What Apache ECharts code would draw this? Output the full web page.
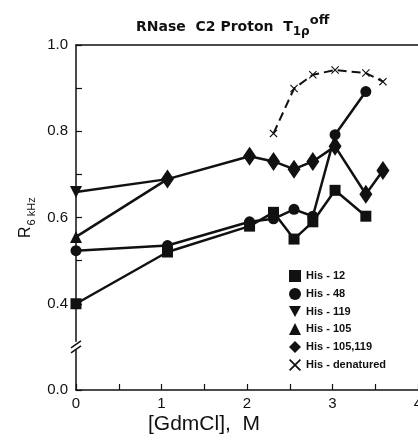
<!DOCTYPE html>
<html>
<head>
<meta charset="utf-8">
<script src="https://cdn.jsdelivr.net/npm/echarts@6/dist/echarts.min.js"></script>
<style>
html, body { margin: 0; padding: 0; background: #fff; }
#main { width: 418px; height: 444px; }
</style>
</head>
<body>
<div id="main"></div>
<script>
// GdmCl concentration (M) for every measured point
var gdmX = [0, 1.07, 2.03, 2.31, 2.55, 2.77, 3.03, 3.39, 3.59];
// R 6kHz values, null where no point
var his12 = [0.40, 0.52, 0.58, 0.612, 0.55, 0.59, 0.663, 0.603, null];
var his48 = [0.523, 0.535, 0.59, 0.597, 0.619, 0.603, 0.792, 0.892, null];
var his105119 = [null, 0.689, 0.742, 0.730, 0.712, 0.730, 0.765, 0.654, 0.709];
var hisDenatured = [null, null, null, 0.795, 0.899, 0.931, 0.942, 0.935, 0.915];
var his119 = [0.659];
var his105 = [0.555];
var yTicks = [0.2, 0.4, 0.6, 0.8, 1.0];
var yTickLabels = ['0.0', '0.4', '0.6', '0.8', '1.0'];
var xTickLabels = ['0', '1', '2', '3', '4'];

function pairs(ys) {
    var out = [];
    for (var i = 0; i < gdmX.length; i++) {
        if (ys[i] != null) out.push([gdmX[i], ys[i]]);
    }
    return out;
}

var invTri = 'path://M0,0 L10,0 L5,9 Z';
var cross = 'path://M0,1 L1,0 L5,4 L9,0 L10,1 L6,5 L10,9 L9,10 L5,6 L1,10 L0,9 L4,5 Z';
var black = '#111';

var myChart = echarts.init(document.getElementById('main'));

var option = {
    backgroundColor: '#fff',
    animation: false,
    grid: { left: 76, right: 0, top: 45, bottom: 54, outerBoundsMode: 'none', containLabel: false },
    legend: {
        orient: 'vertical',
        left: 284,
        top: 265,
        itemWidth: 12,
        itemHeight: 12,
        itemGap: 6,
        textStyle: { fontFamily: 'Liberation Sans', fontWeight: 'bold', fontSize: 11, color: black },
        data: [
            { name: 'His - 12', icon: 'rect' },
            { name: 'His - 48', icon: 'circle' },
            { name: 'His - 119', icon: invTri },
            { name: 'His - 105', icon: 'triangle' },
            { name: 'His - 105,119', icon: 'diamond' },
            { name: 'His - denatured', icon: cross }
        ]
    },
    xAxis: [{
        type: 'value',
        min: 0,
        max: 4,
        interval: 0.5,
        splitLine: { show: false },
        axisLine: { lineStyle: { color: black, width: 1.5 } },
        axisTick: { inside: true, length: 6, lineStyle: { color: black, width: 1.2 } },
        axisLabel: {
            margin: 6,
            fontFamily: 'Liberation Sans',
            fontSize: 15,
            color: black,
            formatter: function (v) {
                var i = Math.round(v);
                return Math.abs(v - i) < 1e-6 ? xTickLabels[i] : '';
            }
        }
    }, {
        // top frame line
        type: 'value',
        position: 'top',
        min: 0,
        max: 4,
        splitLine: { show: false },
        axisLine: { show: true, lineStyle: { color: black, width: 1.5 } },
        axisTick: { show: false },
        axisLabel: { show: false }
    }],
    yAxis: {
        type: 'value',
        min: 0.2,
        max: 1.0,
        interval: 0.1,
        splitLine: { show: false },
        axisLine: { show: true, lineStyle: { color: black, width: 1.5 } },
        axisTick: { inside: true, length: 6, lineStyle: { color: black, width: 1.2 } },
        axisLabel: {
            margin: 8,
            fontFamily: 'Liberation Sans',
            fontSize: 15,
            color: black,
            formatter: function (v) {
                for (var i = 0; i < yTicks.length; i++) {
                    if (Math.abs(v - yTicks[i]) < 1e-6) return yTickLabels[i];
                }
                return '';
            }
        }
    },
    graphic: [{
        id: 'title',
        type: 'text',
        left: 136,
        top: 14,
        style: {
            text: '{b|RNase  C2 Proton  T}{sub|1ρ}{sup|off}',
            rich: {
                b: { fontFamily: 'DejaVu Sans', fontWeight: 'bold', fontSize: 14, fill: black, lineHeight: 22, verticalAlign: 'bottom' },
                sub: { fontFamily: 'DejaVu Sans', fontWeight: 'bold', fontSize: 12, fill: black, lineHeight: 22, verticalAlign: 'bottom', padding: [0, 0, -4, 0] },
                sup: { fontFamily: 'DejaVu Sans', fontWeight: 'bold', fontSize: 13, fill: black, lineHeight: 22, verticalAlign: 'bottom', padding: [0, 0, 7, 0] }
            }
        }
    }, {
        id: 'yname',
        type: 'text',
        x: 14,
        y: 238,
        rotation: Math.PI / 2,
        style: {
            text: '{r|R}{s|6 kHz}',
            rich: {
                r: { fontFamily: 'Liberation Sans', fontSize: 16, fill: black, verticalAlign: 'bottom', lineHeight: 20 },
                s: { fontFamily: 'Liberation Sans', fontSize: 11, fill: black, verticalAlign: 'bottom', lineHeight: 20, padding: [0, 0, -3, 1] }
            }
        }
    }, {
        id: 'xname',
        type: 'text',
        left: 148,
        top: 414,
        style: {
            text: '[GdmCl],  M',
            fontFamily: 'Liberation Sans',
            fontSize: 21,
            fill: black
        }
    }],
    series: [{
        name: 'His - 12',
        type: 'line',
        data: pairs(his12),
        symbol: 'rect',
        symbolSize: 11,
        itemStyle: { color: black },
        lineStyle: { color: black, width: 2.5 },
        z: 3
    }, {
        name: 'His - 48',
        type: 'line',
        data: pairs(his48),
        symbol: 'circle',
        symbolSize: 11,
        itemStyle: { color: black },
        lineStyle: { color: black, width: 2.5 },
        z: 3
    }, {
        name: 'His - 119',
        type: 'line',
        data: [[gdmX[0], his119[0]], { value: [gdmX[1], his105119[1]], symbol: 'none' }],
        symbol: invTri,
        symbolSize: 12,
        itemStyle: { color: black },
        lineStyle: { color: black, width: 2.5 },
        z: 3
    }, {
        name: 'His - 105',
        type: 'line',
        data: [[gdmX[0], his105[0]], { value: [gdmX[1], his105119[1]], symbol: 'none' }],
        symbol: 'triangle',
        symbolSize: 12,
        itemStyle: { color: black },
        lineStyle: { color: black, width: 2.5 },
        z: 3
    }, {
        name: 'His - 105,119',
        type: 'line',
        data: pairs(his105119),
        symbol: 'diamond',
        symbolSize: [13, 19],
        itemStyle: { color: black },
        lineStyle: { color: black, width: 2.5 },
        z: 4
    }, {
        name: 'His - denatured',
        type: 'line',
        data: pairs(hisDenatured),
        symbol: cross,
        symbolSize: 8,
        itemStyle: { color: black },
        lineStyle: { color: black, width: 2, type: [9, 5] },
        z: 3
    }]
};

myChart.setOption(option);

// axis break marks at 0.3
var bx = myChart.convertToPixel({ xAxisIndex: 0 }, 0);
var by = myChart.convertToPixel({ yAxisIndex: 0 }, 0.3);
myChart.setOption({
    graphic: [{
        id: 'breakGap',
        type: 'rect',
        shape: { x: bx - 7, y: by - 5, width: 14, height: 8 },
        style: { fill: '#fff' },
        z: 10
    }, {
        id: 'break1',
        type: 'line',
        shape: { x1: bx - 5, y1: by + 1, x2: bx + 5, y2: by - 6 },
        style: { stroke: black, lineWidth: 1.5 },
        z: 11
    }, {
        id: 'break2',
        type: 'line',
        shape: { x1: bx - 5, y1: by + 6, x2: bx + 5, y2: by - 1 },
        style: { stroke: black, lineWidth: 1.5 },
        z: 11
    }]
});
</script>
</body>
</html>
